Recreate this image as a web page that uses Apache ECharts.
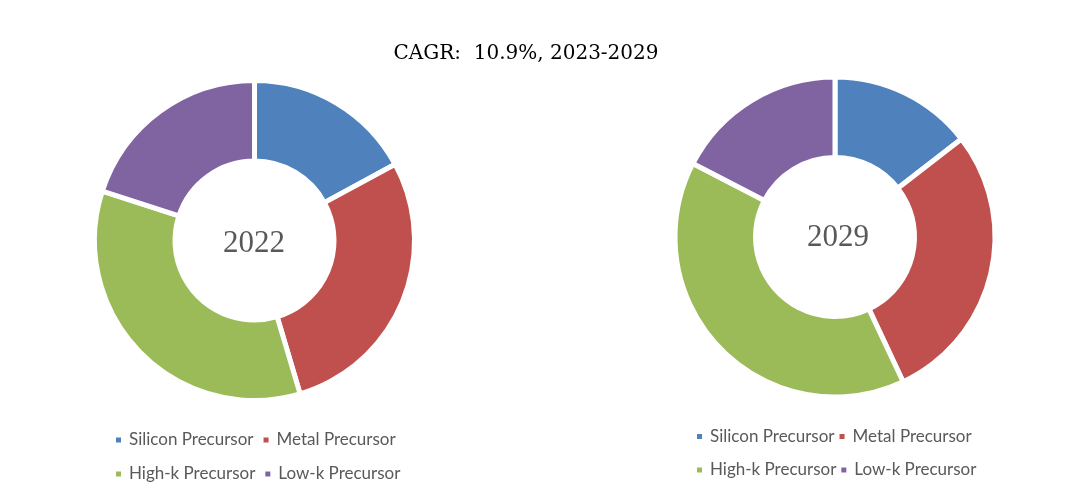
<!DOCTYPE html>
<html>
<head>
<meta charset="utf-8">
<script src="https://cdn.jsdelivr.net/npm/echarts@6/dist/echarts.min.js"></script>
<style>
html,body{margin:0;padding:0;background:#fff;}
#c{width:1089px;height:502px;}
</style>
</head>
<body>
<div id="c"></div>
<script>
const categories = ['Silicon Precursor', 'Metal Precursor', 'High-k Precursor', 'Low-k Precursor'];
const values2022 = [17.1, 28.3, 34.6, 20.0];
const values2029 = [14.5, 28.5, 39.6, 17.4];
const years = ['2022', '2029'];
const titleText = 'CAGR:  10.9%, 2023-2029';
const colors = ['#4F81BD', '#C0504D', '#9BBB59', '#8064A2'];

const chart = echarts.init(document.getElementById('c'), null, {renderer: 'canvas'});

function legend(left, top, names, gap) {
  return {
    left: left, top: top, orient: 'horizontal', padding: 0,
    itemWidth: 7, itemHeight: 7, itemGap: gap, icon: 'rect',
    data: names,
    textStyle: {fontFamily: 'Lato', fontSize: 17, color: '#595959', width: 120, lineHeight: 17, padding: [0,0,0,2], overflow: 'none'}
  };
}

function pie(center, vals) {
  return {
    type: 'pie', center: center, radius: [79.5, 160],
    startAngle: 90, clockwise: true, silent: true,
    label: {show: false}, labelLine: {show: false},
    itemStyle: {borderColor: '#fff', borderWidth: 5},
    data: categories.map((n, i) => ({name: n, value: vals[i]}))
  };
}

chart.setOption({
  animation: false,
  color: colors,
  title: [
    {text: titleText, left: 526, top: 44, textAlign: 'center', padding: 0,
     textStyle: {fontFamily: 'DejaVu Serif', fontSize: 20, fontWeight: 'normal', color: '#000'}},
    {text: years[0], left: 254, top: 228, textAlign: 'center', padding: 0,
     textStyle: {fontFamily: 'Liberation Serif', fontSize: 31, fontWeight: 'normal', color: '#595959'}},
    {text: years[1], left: 838, top: 222, textAlign: 'center', padding: 0,
     textStyle: {fontFamily: 'Liberation Serif', fontSize: 31, fontWeight: 'normal', color: '#595959'}}
  ],
  legend: [
    legend(114, 431.5, [categories[0], categories[1]], 8),
    legend(114, 465.5, [categories[2], categories[3]], 8),
    legend(695, 428, [categories[0], categories[1]], 3),
    legend(695, 461.5, [categories[2], categories[3]], 3)
  ],
  series: [
    pie([254.5, 240.5], values2022),
    pie([835, 237], values2029)
  ]
});
</script>
</body>
</html>
